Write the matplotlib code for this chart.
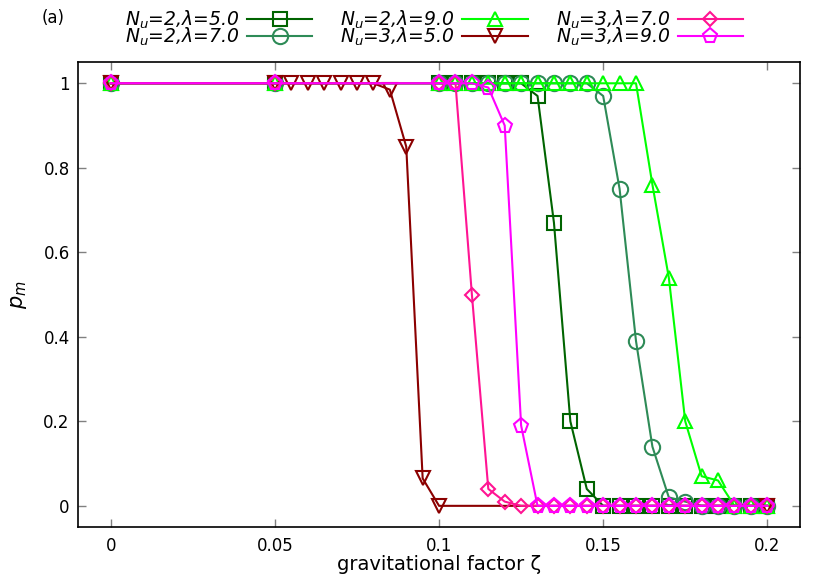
import numpy as np
import matplotlib
matplotlib.use("Agg")
import matplotlib.pyplot as plt

# zeta grid shared by most runs
zeta = [0, 0.05, 0.1, 0.105, 0.11, 0.115, 0.12, 0.125, 0.13, 0.135, 0.14,
        0.145, 0.15, 0.155, 0.16, 0.165, 0.17, 0.175, 0.18, 0.185, 0.19,
        0.195, 0.2]
# Nu=3, lambda=5 was sampled more finely at low zeta
zeta_lo = [0, 0.05, 0.055, 0.06, 0.065, 0.07, 0.075, 0.08, 0.085, 0.09,
           0.095, 0.1, 0.2]

pm_2_5 = [1, 1, 1, 1, 1, 1, 1, 1, 0.97, 0.67, 0.2, 0.04, 0, 0, 0, 0, 0, 0,
          0, 0, 0, 0, 0]
pm_2_7 = [1, 1, 1, 1, 1, 1, 1, 1, 1, 1, 1, 1, 0.97, 0.75, 0.39, 0.14, 0.02,
          0.01, 0, 0, 0, 0, 0]
pm_2_9 = [1, 1, 1, 1, 1, 1, 1, 1, 1, 1, 1, 1, 1, 1, 1, 0.76, 0.54, 0.2,
          0.07, 0.06, 0, 0, 0]
pm_3_5 = [1, 1, 1, 1, 1, 1, 1, 1, 0.985, 0.85, 0.065, 0, 0]
pm_3_7 = [1, 1, 1, 1, 0.5, 0.04, 0.01, 0, 0, 0, 0, 0, 0, 0, 0, 0, 0, 0, 0,
          0, 0, 0, 0]
pm_3_9 = [1, 1, 1, 1, 1, 0.99, 0.9, 0.19, 0, 0, 0, 0, 0, 0, 0, 0, 0, 0, 0,
          0, 0, 0, 0]

labels = [r"$N_u$=2,λ=5.0", r"$N_u$=2,λ=7.0", r"$N_u$=2,λ=9.0",
          r"$N_u$=3,λ=5.0", r"$N_u$=3,λ=7.0", r"$N_u$=3,λ=9.0"]

plt.rcParams["font.family"] = "DejaVu Sans"
plt.rcParams["mathtext.fontset"] = "dejavusans"

fig = plt.figure(figsize=(8.3, 5.81), dpi=100)
ax = fig.add_axes([0.094, 0.093, 0.87, 0.8])

style = dict(lw=1.5, mew=1.5, mfc="none")
ax.plot(zeta, pm_2_5, marker="s", ms=10, color="#006400", label=labels[0], **style)
ax.plot(zeta, pm_2_7, marker="o", ms=11, color="#2e8b57", label=labels[1], **style)
ax.plot(zeta, pm_2_9, marker="^", ms=10, color="#00ff00", label=labels[2], **style)
ax.plot(zeta_lo, pm_3_5, marker="v", ms=10, color="#8b0000", label=labels[3], **style)
ax.plot(zeta, pm_3_7, marker="D", ms=7.5, color="#ff1493", label=labels[4], **style)
ax.plot(zeta, pm_3_9, marker="p", ms=11, color="#ff00ff", label=labels[5], **style)

ax.set_xlim(-0.01, 0.21)
ax.set_ylim(-0.05, 1.05)
ax.set_xticks([0, 0.05, 0.1, 0.15, 0.2])
ax.set_xticklabels(["0", "0.05", "0.1", "0.15", "0.2"])
ax.set_yticks([0, 0.2, 0.4, 0.6, 0.8, 1])
ax.set_yticklabels(["0", "0.2", "0.4", "0.6", "0.8", "1"])
ax.tick_params(direction="in", length=5.5, width=1, color="#808080",
               top=True, right=True, labelsize=12)
ax.tick_params(axis="x", pad=7)
ax.tick_params(axis="y", pad=6)
for s in ax.spines.values():
    s.set_linewidth(1.2)

ax.set_xlabel("gravitational factor ζ", fontsize=14, labelpad=0)
ax.set_ylabel(r"$p_m$", fontsize=15, labelpad=10)

fig.text(0.05, 0.985, "(a)", fontsize=12, va="top", ha="left")

leg = fig.legend(loc="center", bbox_to_anchor=(0.523, 0.951), ncol=3,
                 frameon=False, markerfirst=False, handlelength=3.5,
                 handletextpad=0.4, columnspacing=1.5, labelspacing=-0.3,
                 prop=dict(family="DejaVu Sans", style="italic", size=13.5))

fig.savefig("out.png", dpi=100)
